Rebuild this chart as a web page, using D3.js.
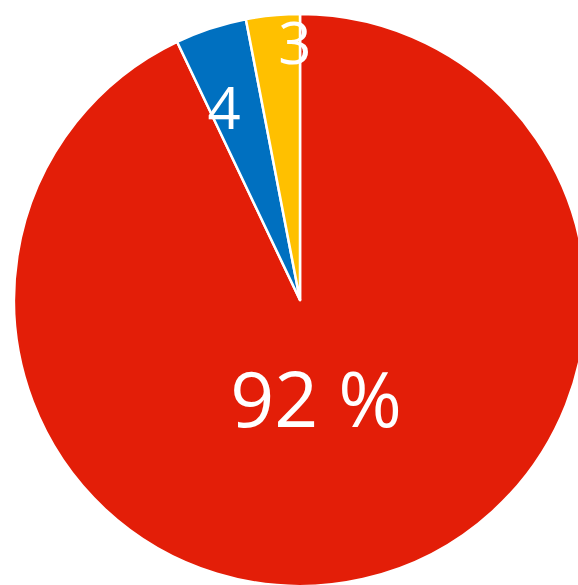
<!DOCTYPE html>
<html>
<head>
<meta charset="utf-8">
<script src="https://d3js.org/d3.v7.min.js"></script>
<style>
body { margin: 0; background: #fff; }
svg { display: block; }
</style>
</head>
<body>
<div id="chart"></div>
<script>

// data
var categories = ["A", "B", "C"];
var values = [92, 4, 3];
var labels = ["92 %", "4", "3"];
var colors = ["#e31e08", "#0070c0", "#ffc000"];

var width = 578, height = 585;
var radius = 286;
var cx = 300, cy = 300;

var svg = d3.select("#chart")
  .append("svg")
    .attr("width", width)
    .attr("height", height);

var g = svg.append("g")
  .attr("transform", "translate(" + cx + "," + cy + ")");

var pie = d3.pie()
  .sort(null)
  .value(function(d) { return d; });

var arcs = pie(values);

var arc = d3.arc()
  .innerRadius(0)
  .outerRadius(radius);

g.selectAll("path")
  .data(arcs)
  .enter()
  .append("path")
    .attr("d", arc)
    .attr("fill", function(d, i) { return colors[i]; })
    .attr("stroke", "#fff")
    .attr("stroke-width", 2.5)
    .attr("stroke-linejoin", "round");

// label placement (fraction of radius, angle nudge) and font size per slice
var labelRadius = [0.35, 0.72, 0.9];
var labelNudge = [0.06, -0.06, 0.075];
var labelSize = [77, 58, 58];

g.selectAll("text")
  .data(arcs)
  .enter()
  .append("text")
    .attr("transform", function(d, i) {
      var a = (d.startAngle + d.endAngle) / 2 + labelNudge[i];
      var r = radius * labelRadius[i];
      return "translate(" + (Math.sin(a) * r) + "," + (-Math.cos(a) * r) + ")";
    })
    .attr("text-anchor", "middle")
    .attr("dy", "0.36em")
    .attr("fill", "#fff")
    .style("font-family", "'Open Sans', sans-serif")
    .style("font-size", function(d, i) { return labelSize[i] + "px"; })
    .text(function(d, i) { return labels[i]; });

</script>
</body>
</html>
